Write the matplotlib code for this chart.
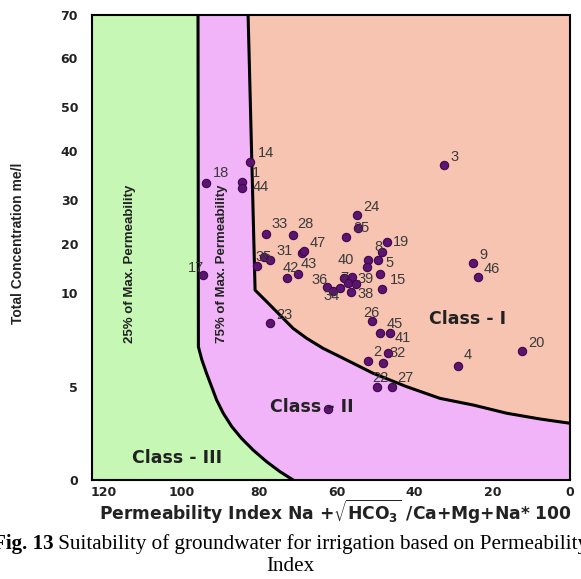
import numpy as np
import matplotlib.pyplot as plt

# ------------------------------------------------------------
# Data
# ------------------------------------------------------------
# y axis is not linear: tick values and where they sit (fraction of axis height)
ytick_vals = [0, 5, 10, 20, 30, 40, 50, 60, 70]
ytick_frac = [0, 0.200, 0.402, 0.5075, 0.602, 0.7075, 0.802, 0.9075, 1.0]
xtick_vals = [120, 100, 80, 60, 40, 20, 0]

# 25% of max. permeability boundary (Class III / Class II)
b25_pi = [95.8, 95.7, 94.8, 93.6, 92.3, 91.0, 89.3, 87.1, 84.6, 81.6, 78.1, 74.7, 71.3]
b25_tc = [70.0, 7.14, 6.44, 5.73, 5.02, 4.30, 3.59, 2.87, 2.24, 1.61, 0.98, 0.45, 0.0]

# 75% of max. permeability boundary (Class II / Class I)
b75_pi = [82.9, 81.1, 78.1, 74.7, 71.3, 67.8, 63.6, 59.2, 50.7, 42.1, 33.5,
          24.9, 16.3, 7.7, 0.0]
b75_tc = [70.0, 10.6, 9.54, 8.83, 8.12, 7.59, 7.06, 6.61, 5.73, 5.02, 4.39,
          4.03, 3.59, 3.28, 3.05]

# samples: permeability index, total concentration, sample no.
pi_vals = [82.4, 93.7, 84.5, 84.5, 32.4, 54.9, 54.6, 57.7, 78.3, 71.3,
           47.1, 48.4, 69.0, 68.5, 78.8, 77.3, 80.6, 72.9, 70.0, 52.0,
           52.3, 49.4, 48.9, 56.1, 58.2, 62.6, 61.0, 59.2, 56.4, 48.4,
           57.2, 55.1, 25.0, 23.7, 94.5, 77.3, 51.0, 48.9, 46.4, 52.0,
           46.9, 48.2, 49.7, 45.8, 28.8, 12.4, 62.3]
tc_vals = [37.8, 33.5, 33.7, 32.4, 37.1, 26.6, 23.6, 21.6, 22.3, 22.0,
           20.5, 18.4, 18.2, 18.6, 17.3, 16.7, 15.5, 13.1, 13.9, 16.7,
           15.3, 16.7, 13.9, 13.3, 13.1, 11.2, 10.4, 11.0, 10.2, 10.8,
           12.0, 11.8, 16.1, 13.3, 13.7, 8.4, 8.5, 7.9, 7.9, 6.4,
           6.8, 6.3, 5.0, 5.0, 6.1, 6.9, 3.8]
sample_ids = ['14', '18', '1', '44', '3', '24', '25', '', '33', '28',
              '19', '8', '31', '47', '35', '', '', '42', '43', '40',
              '', '5', '15', '39', '7', '36', '34', '', '38', '',
              '', '', '9', '46', '17', '23', '26', '45', '41', '2',
              '32', '', '22', '27', '4', '20', '']

# label offsets in pixels (dx, dy), default up-right of the dot
label_offsets = {
    '1': (10, 5), '44': (11, -3), '31': (-26, -2), '35': (-9, -4),
    '42': (-4, 6), '43': (2, 6), '40': (-30, -4), '8': (-8, 1),
    '19': (6, -4), '5': (7, -7), '15': (10, -10), '39': (5, -6),
    '7': (-4, -4), '36': (-15, 3), '34': (-10, -9), '38': (6, -6),
    '17': (-15, 3), '18': (7, 6), '14': (8, 5), '25': (-5, -4),
    '33': (6, 6), '28': (4, 7), '26': (-9, 4), '45': (7, 5),
    '41': (5, -9), '2': (5, 5), '32': (2, -4), '22': (-5, 5),
    '27': (5, 5), '4': (5, 7),
}

# ------------------------------------------------------------
# Plot
# ------------------------------------------------------------
GREEN = '#C6F7B4'
PINK = '#F2B4F8'
SALMON = '#F8C4B2'
DOT = '#5E1272'

fig = plt.figure(figsize=(5.81, 5.79), dpi=100)
ax = fig.add_axes([92 / 581, 1 - 480 / 579, 478 / 581, 465 / 579])


def fwd(v):
    return np.interp(v, ytick_vals, ytick_frac)


def inv(u):
    return np.interp(u, ytick_frac, ytick_vals)


ax.set_yscale('function', functions=(fwd, inv))
ax.set_xlim(123.1, 0)
ax.set_ylim(0, 70)
ax.set_facecolor(GREEN)

# class II region (right of the 25% line), then class I (right of the 75% line)
ax.fill(b25_pi + [0, 0], b25_tc + [0, 70], color=PINK, lw=0, zorder=1)
ax.fill(b75_pi + [0], b75_tc + [70], color=SALMON, lw=0, zorder=2)
ax.plot(b25_pi, b25_tc, color='black', lw=2.2, zorder=3, solid_joinstyle='round')
ax.plot(b75_pi, b75_tc, color='black', lw=2.2, zorder=3, solid_joinstyle='round')

ax.plot(pi_vals, tc_vals, 'o', color=DOT, mec='#3B0A4A', mew=0.8, ms=6, zorder=5)
for x, y, s in zip(pi_vals, tc_vals, sample_ids):
    if not s:
        continue
    dx, dy = label_offsets.get(s, (6, 4))
    ax.annotate(s, (x, y), xytext=(dx, dy), textcoords='offset pixels',
                fontsize=10.5, color='#3a3a3a', family='Liberation Sans',
                ha='left', va='baseline', zorder=6)

# class names and boundary labels
cls_kw = dict(fontsize=12.5, fontweight='bold', family='DejaVu Sans',
              color='#222222', ha='center', va='center', zorder=6)
ax.text(101.2, 1.2, 'Class - III', **cls_kw)
ax.text(66.4, 3.9, 'Class - II', **cls_kw)
ax.text(26.5, 8.6, 'Class - I', **cls_kw)

rot_kw = dict(fontsize=9.5, fontweight='bold', rotation=90, color='#222222',
              family=['Liberation Sans Narrow', 'Liberation Sans'],
              ha='center', va='center', zorder=6)
ax.text(113.3, 15.9, '25% of Max. Permeability', **rot_kw)
ax.text(89.6, 15.9, '75% of Max. Permeability', **rot_kw)

# axes
ax.set_xticks(xtick_vals)
ax.set_yticks(ytick_vals)
ax.yaxis.set_minor_locator(plt.NullLocator())
ax.tick_params(length=0)
ax.tick_params(axis='y', pad=10)
ax.tick_params(axis='x', pad=4)
for lab in ax.get_xticklabels() + ax.get_yticklabels():
    lab.set_fontweight('bold')
    lab.set_fontsize(9)
    lab.set_family('DejaVu Sans')
    lab.set_color('#222222')
for sp in ax.spines.values():
    sp.set_linewidth(1.5)

ax.set_ylabel('Total Concentration me/l', fontsize=10, fontweight='bold',
              family=['Liberation Sans Narrow', 'Liberation Sans'], color='#222222')
ax.yaxis.set_label_coords(-0.14, 0.51)
ax.set_xlabel(r'Permeability Index Na +$\sqrt{\mathbf{HCO}_\mathbf{3}}$ /Ca+Mg+Na* 100',
              fontsize=12.3, fontweight='bold', family='DejaVu Sans', color='#222222')
ax.xaxis.set_label_coords(0.51, -0.038)

# caption (first line wider than the figure, as in the source)
cap_size = 15.2
cap_y = 1 - 549 / 579
t1 = fig.text(0, cap_y, 'Fig. 13', fontsize=cap_size, fontweight='bold',
              family='Liberation Serif', va='baseline')
t2 = fig.text(0, cap_y, ' Suitability of groundwater for irrigation based on Permeability',
              fontsize=cap_size, family='Liberation Serif', va='baseline')
r = fig.canvas.get_renderer()
w1 = t1.get_window_extent(r).width
w2 = t2.get_window_extent(r).width
x0 = (581 - (w1 + w2)) / 2 / 581
t1.set_x(x0)
t2.set_x(x0 + w1 / 581)
fig.text(0.5, 1 - 571 / 579, 'Index', fontsize=cap_size, family='Liberation Serif',
         ha='center', va='baseline')

plt.savefig('out.png', dpi=100)
